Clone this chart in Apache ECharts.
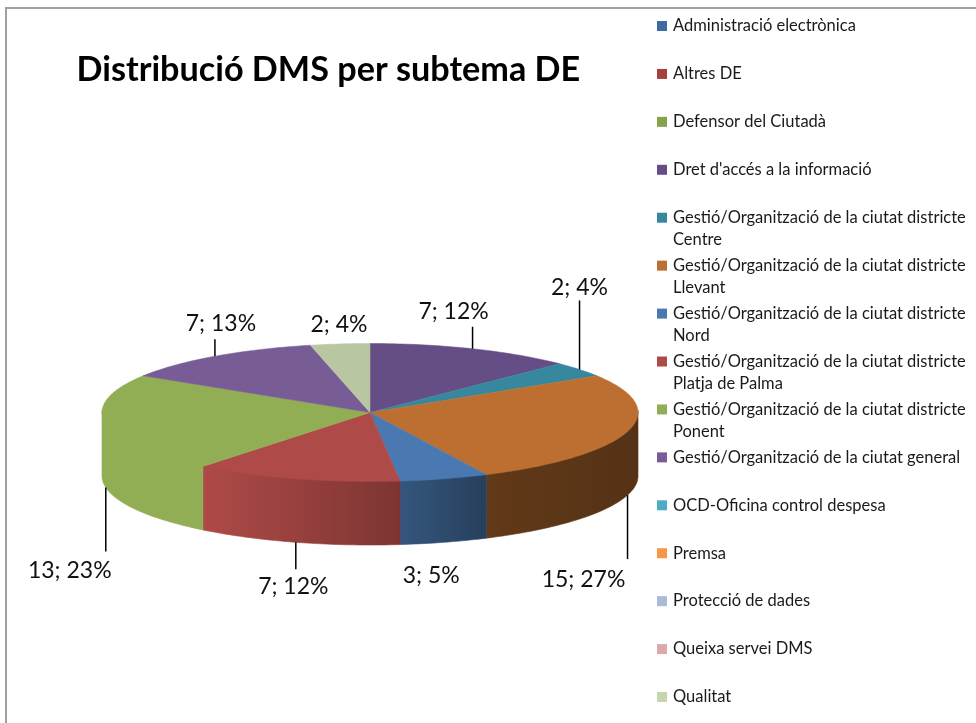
<!DOCTYPE html>
<html>
<head>
<meta charset="utf-8">
<style>html,body{margin:0;padding:0;background:#fff}#c{width:976px;height:723px}</style>
<script src="https://cdn.jsdelivr.net/npm/echarts@6/dist/echarts.min.js"></script>
</head>
<body>
<div id="c"></div>
<script>
const titleText = "Distribució DMS per subtema DE";
const categories = [
  "Administració electrònica","Altres DE","Defensor del Ciutadà","Dret d'accés a la informació",
  "Gestió/Organització de la ciutat districte Centre","Gestió/Organització de la ciutat districte Llevant",
  "Gestió/Organització de la ciutat districte Nord","Gestió/Organització de la ciutat districte Platja de Palma",
  "Gestió/Organització de la ciutat districte Ponent","Gestió/Organització de la ciutat general",
  "OCD-Oficina control despesa","Premsa","Protecció de dades","Queixa servei DMS","Qualitat"
];
const values   = [0,0,0,7,2,15,3,7,13,7,0,0,0,0,2];
const percents = [0,0,0,12,4,27,5,12,23,13,0,0,0,0,4];
const colors = ["#3c6aa2","#a5403d","#84a34a","#654e85","#37889f","#bc6f30","#4a78b0","#ae4a47",
                "#92ae54","#785c96","#4bacc6","#f79646","#aabad7","#d9aaa9","#c6d6ac"];
const topOverride = {14:"#b8c7a2"};

// layout of the pseudo-3D pie
const CX=370, CY=412.5, RX=268, RY=69, DEPTH=63.5;
const LEGEND_X=657, LEGEND_Y0=25, LEGEND_STEP=47.93, LEGEND_FONT=16.5;
// callout geometry by category index: leader length, label centre relative to the rim anchor
const callouts = {
  3:{len:22,dx:-19,dy:-37}, 4:{len:69,dx:0,dy:-82}, 5:{len:64,dx:-44,dy:84}, 6:{len:0,dx:-13,dy:33},
  7:{len:27,dx:-2.5,dy:44}, 8:{len:64,dx:-36,dy:83}, 9:{len:17,dx:6,dy:-33}, 14:{len:0,dx:-1,dy:-19}
};
const total = values.reduce((a,b)=>a+b,0);
const pt = (deg,dy=0)=>{const r=deg*Math.PI/180;return [CX+RX*Math.sin(r),CY-RY*Math.cos(r)+dy];};
const shade = x=>{
  const s=[[203,1],[400,.72],[488,.52],[638,.45]];
  if(x<=s[0][0])return 1;
  for(let i=1;i<s.length;i++) if(x<=s[i][0]) return s[i-1][1]+(s[i][1]-s[i-1][1])*(x-s[i-1][0])/(s[i][0]-s[i-1][0]);
  return .45;
};
const mul=(hex,f)=>{const n=parseInt(hex.slice(1),16);return `rgb(${[n>>16,(n>>8)&255,n&255].map(c=>Math.round(c*f)).join(',')})`;};

function arc(a,b,dy){const out=[];const n=Math.max(2,Math.ceil((b-a)));for(let i=0;i<=n;i++)out.push(pt(a+(b-a)*i/n,dy));return out;}

function render(idx){
  return function(params,api){
    const v=api.value(2);
    if(!v) return null;
    const a=api.value(0), b=api.value(1), pct=api.value(3);
    const col=topOverride[idx]||colors[idx];
    const kids=[];
    const la=Math.max(a,90), lb=Math.min(b,270);
    if(lb>la){
      const rim=arc(la,lb,-2), low=arc(la,lb,DEPTH).reverse();
      const xs=rim.map(p=>p[0]);const mn=Math.min(...xs),mx=Math.max(...xs);
      const stops=[];for(let i=0;i<=6;i++){const t=i/6;stops.push({offset:t,color:mul(col,shade(mn+(mx-mn)*t))});}
      const fill={type:'linear',x:mn,y:0,x2:mx,y2:0,global:true,colorStops:stops};
      kids.push({type:'polygon',z2:1,shape:{points:rim.concat(low)},style:{fill,stroke:fill,lineWidth:.6}});
    }
    kids.push({type:'polygon',z2:2,shape:{points:[[CX,CY]].concat(arc(a,b,0))},style:{fill:col,stroke:col,lineWidth:.5}});
    const m=(a+b)/2, front=Math.cos(m*Math.PI/180)<0;
    const anchor=pt(m,front?DEPTH:0), c=callouts[idx];
    if(c.len) kids.push({type:'line',z2:3,shape:{x1:anchor[0],y1:anchor[1],x2:anchor[0],y2:anchor[1]+(front?c.len:-c.len)},style:{stroke:'#000',lineWidth:1.5}});
    kids.push({type:'text',z2:4,x:anchor[0]+c.dx,y:anchor[1]+c.dy,
      style:{text:v+'; '+pct+'%',fontFamily:'Lato',fontSize:23,fill:'#111',align:'center',verticalAlign:'middle'}});
    return {type:'group',children:kids};
  };
}

let cum=0;
const series=categories.map((name,i)=>{
  const start=cum/total*360; cum+=values[i]; const end=cum/total*360;
  return {name,type:'custom',coordinateSystem:'none',silent:true,animation:false,
    itemStyle:{color:colors[i]},data:[[start,end,values[i],percents[i]]],renderItem:render(i)};
});
const wrap=n=>n.replace(/districte /,'districte\n');
const legends=categories.map((name,i)=>{
  const two=wrap(name)!==name, cy=LEGEND_Y0+LEGEND_STEP*i;
  return {data:[name],orient:'vertical',left:LEGEND_X,top:cy-(two?33:11),padding:0,
    itemWidth:10,itemHeight:10,itemGap:0,selectedMode:false,icon:'rect',
    formatter:n=>two?'\n'+wrap(n):n,
    textStyle:{fontFamily:'Lato',fontSize:LEGEND_FONT,color:'#1a1a1a',lineHeight:22,padding:[2,0,0,1]}};
});
const chart=echarts.init(document.getElementById('c'),null,{renderer:'canvas'});
chart.setOption({
  animation:false,backgroundColor:'#fff',
  title:{text:titleText,left:76.5,top:53,padding:0,textStyle:{fontFamily:'Lato',fontWeight:'bold',fontSize:34.2,color:'#000'}},
  legend:legends,
  series,
  graphic:[
    {type:'line',shape:{x1:6,y1:8,x2:6,y2:723},style:{stroke:'#a0a0a0',lineWidth:2}},
    {type:'line',shape:{x1:5,y1:8,x2:976,y2:8},style:{stroke:'#a0a0a0',lineWidth:2}}
  ]
});
</script>
</body>
</html>
